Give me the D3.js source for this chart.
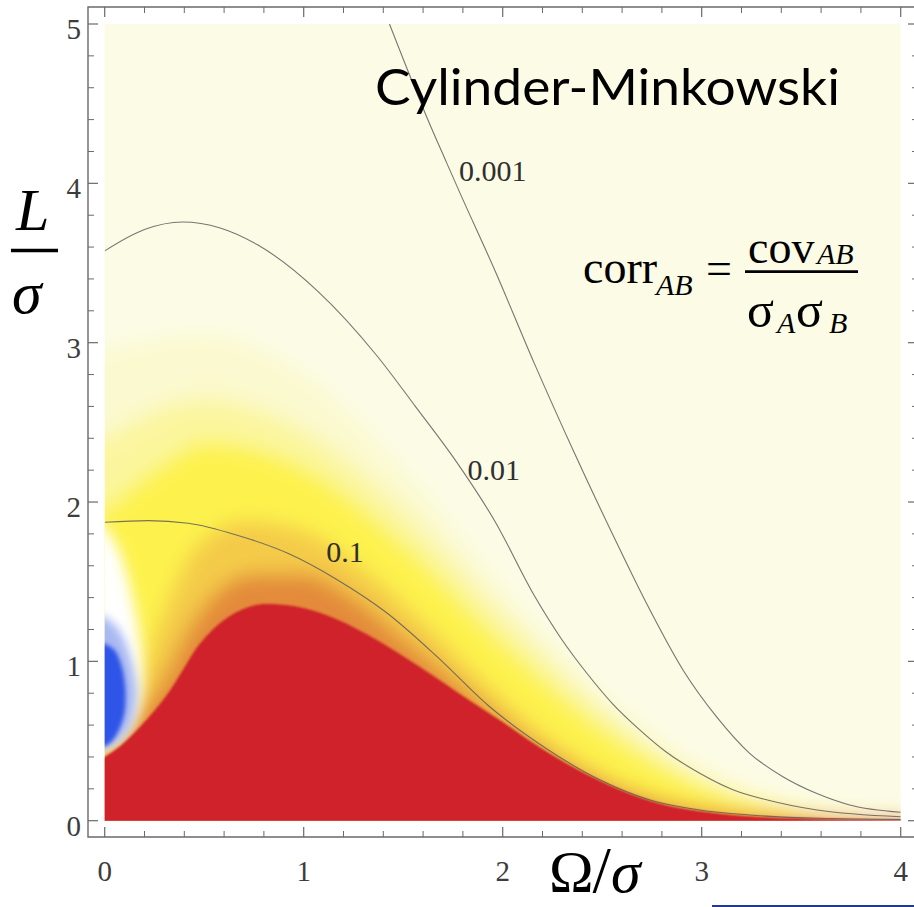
<!DOCTYPE html>
<html>
<head>
<meta charset="utf-8">
<script src="https://cdn.jsdelivr.net/npm/d3@7"></script>
<style>
  html, body { margin: 0; padding: 0; background: #ffffff; }
  svg { display: block; }
</style>
</head>
<body>
<svg id="chart" width="914" height="907"></svg>
<script>
// ---- axis ticks ----
const omegaTicks = [0, 1, 2, 3, 4];
const lTicks = [0, 1, 2, 3, 4, 5];
const minorStep = 0.2;

// ---- contour lines of corr_AB, points as [Ω/σ, L/σ] ----
const contour0p1 = [[0,1.873],[0.22,1.883],[0.42,1.867],[0.67,1.79],[0.92,1.678],[1.17,1.511],[1.42,1.302],[1.67,1.03],[1.93,0.72],[2.23,0.444],[2.49,0.255],[2.74,0.13],[2.99,0.067],[3.24,0.036],[3.58,0.015],[4,0.008]];
const contour0p01 = [[0,3.576],[0.2,3.71],[0.39,3.757],[0.58,3.72],[0.77,3.613],[1.07,3.324],[1.37,2.915],[1.56,2.602],[1.76,2.266],[1.96,1.881],[2.16,1.41],[2.29,1.15],[2.42,0.93],[2.55,0.737],[2.69,0.569],[2.82,0.433],[2.99,0.298],[3.16,0.193],[3.33,0.13],[3.58,0.067],[4,0.025]];
const contour0p001 = [[1.431,5.0],[1.5,4.78],[1.617,4.42],[1.718,4.13],[1.785,3.94],[1.962,3.45],[2.16,2.867],[2.358,2.314],[2.557,1.785],[2.716,1.38],[2.906,0.946],[3.074,0.653],[3.241,0.423],[3.408,0.276],[3.576,0.172],[3.743,0.099],[4,0.053]];
const contourLevels = ["0.1", "0.01", "0.001"];
const contourLabelPos = [[1.207,1.621],[1.955,2.139],[1.95,4.016]];

// ---- colour bands of the density plot (upper edge of each band) ----
const bandPale   = [[0,2.95],[0.5,3.05],[1.0,2.8],[1.5,2.2],[2.0,1.45],[2.5,0.8],[3.0,0.33],[3.5,0.1],[4,0.03]];
const bandLight  = [[0,2.4],[0.5,2.65],[1.0,2.45],[1.5,1.95],[2.0,1.3],[2.5,0.7],[3.0,0.28],[3.5,0.08],[4,0.02]];
const bandYellow = [[0,1.95],[0.3,2.25],[0.5,2.38],[1.0,2.22],[1.5,1.74],[2.0,1.12],[2.5,0.58],[3.0,0.22],[3.5,0.065],[4,0.015]];
const bandGold   = [[0,0.42],[0.12,0.72],[0.22,1.05],[0.32,1.38],[0.45,1.7],[0.7,1.88],[1.0,1.82],[1.3,1.58],[1.6,1.25],[1.9,0.88],[2.2,0.55],[2.5,0.3],[2.8,0.14],[3.1,0.065],[3.5,0.025],[4,0.006]];
const bandOrange = [[0,0.41],[0.15,0.64],[0.3,0.9],[0.42,1.2],[0.55,1.42],[0.75,1.55],[1.0,1.55],[1.25,1.4],[1.5,1.15],[1.8,0.84],[2.1,0.53],[2.4,0.3],[2.7,0.15],[3.0,0.07],[3.4,0.026],[4,0.005]];
const redEdge    = [[0,0.40],[0.08,0.47],[0.167,0.575],[0.25,0.69],[0.335,0.83],[0.40,0.96],[0.46,1.08],[0.52,1.17],[0.6,1.26],[0.7,1.33],[0.803,1.36],[0.92,1.352],[1.088,1.302],[1.339,1.155],[1.59,0.96],[1.83,0.758],[2.0,0.62],[2.15,0.49],[2.32,0.36],[2.49,0.25],[2.65,0.165],[2.82,0.099],[3.0,0.06],[3.16,0.036],[3.5,0.015],[4,0.004]];
const whiteHalo  = [[0,1.85],[0.07,1.7],[0.13,1.45],[0.17,1.2],[0.19,0.95],[0.18,0.75],[0.14,0.6],[0.08,0.5],[0,0.44]];
const blueGlow   = [[0,1.28],[0.07,1.2],[0.13,1.02],[0.16,0.8],[0.13,0.6],[0.07,0.5],[0,0.45]];
const blueCore   = [[0,1.11],[0.05,1.07],[0.085,0.97],[0.104,0.82],[0.098,0.67],[0.068,0.56],[0.03,0.49],[0,0.465]];

const backgroundColour = "#fcfce6";
const bandColours = ["#fbf9cf", "#fbf69e", "#fdf24e", "#f4cb48", "#e38a3b"];
const redColour = "#cf2129";
const blueColours = ["#a8b8f2", "#2e54e8"];

// ---- layout ----
const svg = d3.select("#chart");
const x = d3.scaleLinear().domain([0, 4]).range([104.7, 900.7]);
const y = d3.scaleLinear().domain([0, 5]).range([820.7, 24]);
const frame = { left: 88, right: 918, top: 7, bottom: 837 };
const serif = "'Liberation Serif', 'Times New Roman', serif";

const defs = svg.append("defs");
defs.append("clipPath").attr("id", "plotClip")
  .append("rect")
  .attr("x", x(0)).attr("y", y(5))
  .attr("width", x(4) - x(0)).attr("height", y(0) - y(5));

function blurFilter(id, sd) {
  defs.append("filter").attr("id", id)
    .attr("filterUnits", "userSpaceOnUse")
    .attr("x", -200).attr("y", -200).attr("width", 1400).attr("height", 1400)
    .append("feGaussianBlur").attr("stdDeviation", sd);
}
blurFilter("soft", 10);
blurFilter("haloBlur", 7);
blurFilter("glowBlur", 5);
blurFilter("coreBlur", 2);
blurFilter("edgeBlur", 1.1);

const curve = d3.line().x(d => x(d[0])).y(d => y(d[1])).curve(d3.curveMonotoneX);
const loop = d3.line().x(d => x(d[0])).y(d => y(d[1])).curve(d3.curveCatmullRom.alpha(0.5));

// region below an edge that runs from the left side to the right side
function regionBelow(edge) {
  const last = edge[edge.length - 1];
  return curve(edge) +
    `L${x(4.3)},${y(last[1])}L${x(4.3)},${y(-0.3)}L${x(-0.3)},${y(-0.3)}L${x(-0.3)},${y(edge[0][1])}Z`;
}
// region bounded by an edge that leaves and returns to the Ω = 0 side
function regionAtAxis(edge) {
  const first = edge[0], last = edge[edge.length - 1];
  return loop(edge) + `L${x(-0.2)},${y(last[1])}L${x(-0.2)},${y(first[1])}Z`;
}

// ---- density plot ----
const plot = svg.append("g").attr("clip-path", "url(#plotClip)");

const soft = plot.append("g").attr("filter", "url(#soft)");
soft.append("rect")
  .attr("x", x(-0.4)).attr("y", y(5.4))
  .attr("width", x(4.4) - x(-0.4)).attr("height", y(-0.4) - y(5.4))
  .attr("fill", backgroundColour);
[bandPale, bandLight, bandYellow, bandGold, bandOrange].forEach((edge, i) => {
  soft.append("path").attr("d", regionBelow(edge)).attr("fill", bandColours[i]);
});

plot.append("path").attr("d", regionAtAxis(whiteHalo))
  .attr("fill", "#ffffff").attr("filter", "url(#haloBlur)");
plot.append("path").attr("d", regionAtAxis(blueGlow))
  .attr("fill", blueColours[0]).attr("filter", "url(#glowBlur)");
plot.append("path").attr("d", regionAtAxis(blueCore))
  .attr("fill", blueColours[1]).attr("filter", "url(#coreBlur)");

plot.append("path").attr("d", regionBelow(redEdge))
  .attr("fill", redColour).attr("filter", "url(#edgeBlur)");

// ---- contour lines ----
[contour0p1, contour0p01, contour0p001].forEach(pts => {
  plot.append("path").attr("d", curve(pts))
    .attr("fill", "none").attr("stroke", "#5e5e5e")
    .attr("stroke-opacity", 0.85).attr("stroke-width", 1.1);
});
contourLevels.forEach((t, i) => {
  svg.append("text")
    .attr("x", x(contourLabelPos[i][0])).attr("y", y(contourLabelPos[i][1]))
    .attr("text-anchor", "middle")
    .attr("font-family", serif).attr("font-size", 30)
    .attr("fill", "#2f2f2f").text(t);
});

// ---- frame and ticks ----
const axes = svg.append("g").attr("stroke", "#6a6a6a").attr("fill", "none");
axes.append("path")
  .attr("d", `M${frame.right},${frame.top}H${frame.left}V${frame.bottom}H${frame.right}`)
  .attr("stroke-width", 1.4);
axes.append("line")
  .attr("x1", frame.right).attr("x2", frame.right)
  .attr("y1", frame.top).attr("y2", frame.bottom).attr("stroke-width", 1.4);

const omegaMinor = d3.range(0, 4 + 1e-9, minorStep).filter(v => Math.abs(v - Math.round(v)) > 1e-6);
const lMinor = d3.range(0, 5 + 1e-9, minorStep).filter(v => Math.abs(v - Math.round(v)) > 1e-6);

omegaTicks.forEach(v => {
  axes.append("line").attr("x1", x(v)).attr("x2", x(v)).attr("y1", frame.bottom).attr("y2", frame.bottom - 10).attr("stroke-width", 1.2);
  axes.append("line").attr("x1", x(v)).attr("x2", x(v)).attr("y1", frame.top).attr("y2", frame.top + 10).attr("stroke-width", 1.2);
});
omegaMinor.forEach(v => {
  axes.append("line").attr("x1", x(v)).attr("x2", x(v)).attr("y1", frame.bottom).attr("y2", frame.bottom - 6).attr("stroke-width", 1);
  axes.append("line").attr("x1", x(v)).attr("x2", x(v)).attr("y1", frame.top).attr("y2", frame.top + 6).attr("stroke-width", 1);
});
lTicks.forEach(v => {
  axes.append("line").attr("x1", frame.left).attr("x2", frame.left + 10).attr("y1", y(v)).attr("y2", y(v)).attr("stroke-width", 1.2);
  axes.append("line").attr("x1", frame.right).attr("x2", frame.right - 10).attr("y1", y(v)).attr("y2", y(v)).attr("stroke-width", 1.2);
});
lMinor.forEach(v => {
  axes.append("line").attr("x1", frame.left).attr("x2", frame.left + 6).attr("y1", y(v)).attr("y2", y(v)).attr("stroke-width", 1);
  axes.append("line").attr("x1", frame.right).attr("x2", frame.right - 6).attr("y1", y(v)).attr("y2", y(v)).attr("stroke-width", 1);
});

const tickText = svg.append("g")
  .attr("font-family", serif).attr("font-size", 29).attr("fill", "#3c3c3c");
omegaTicks.forEach(v => {
  tickText.append("text").attr("x", x(v)).attr("y", 881)
    .attr("text-anchor", "middle").text(d3.format("d")(v));
});
lTicks.forEach(v => {
  tickText.append("text").attr("x", 81).attr("y", y(v) + 15)
    .attr("text-anchor", "end").text(d3.format("d")(v));
});

// ---- axis labels ----
svg.append("text").attr("x", 16).attr("y", 230)
  .attr("font-family", serif).attr("font-size", 60).attr("font-style", "italic")
  .attr("fill", "#000").text("L");
svg.append("line").attr("x1", 11).attr("x2", 58).attr("y1", 250.5).attr("y2", 250.5)
  .attr("stroke", "#000").attr("stroke-width", 3.3);
svg.append("text").attr("x", 12).attr("y", 313)
  .attr("font-family", serif).attr("font-size", 60).attr("font-style", "italic")
  .attr("fill", "#000").text("σ");

const omegaLabel = svg.append("text").attr("x", 549).attr("y", 892)
  .attr("font-family", serif).attr("font-size", 60).attr("fill", "#000");
omegaLabel.append("tspan").text("Ω");
omegaLabel.append("tspan").attr("font-size", 66).attr("dx", -1).text("/");
omegaLabel.append("tspan").attr("font-style", "italic").attr("dx", 0).text("σ");

// ---- title ----
const title = svg.append("text").attr("x", 375).attr("y", 105)
  .attr("font-family", "Lato, 'Open Sans', sans-serif").attr("font-size", 51)
  .attr("fill", "#000").text("Cylinder-Minkowski");
title.attr("textLength", 465).attr("lengthAdjust", "spacingAndGlyphs");

// ---- definition of the correlation ----
const formula = svg.append("g").attr("font-family", serif).attr("fill", "#000");
formula.append("text").attr("x", 583).attr("y", 283).attr("font-size", 46).text("corr");
formula.append("text").attr("x", 656).attr("y", 295).attr("font-size", 30).attr("font-style", "italic").text("AB");
formula.append("text").attr("x", 706).attr("y", 284).attr("font-size", 46).text("=");
formula.append("text").attr("x", 748).attr("y", 263).attr("font-size", 46).text("cov");
formula.append("text").attr("x", 817).attr("y", 264).attr("font-size", 30).attr("font-style", "italic").text("AB");
formula.append("line").attr("x1", 745).attr("x2", 858).attr("y1", 271.7).attr("y2", 271.7)
  .attr("stroke", "#000").attr("stroke-width", 2.8);
formula.append("text").attr("x", 747).attr("y", 327).attr("font-size", 50).text("σ");
formula.append("text").attr("x", 777).attr("y", 333).attr("font-size", 30).attr("font-style", "italic").text("A");
formula.append("text").attr("x", 796).attr("y", 327).attr("font-size", 50).text("σ");
formula.append("text").attr("x", 829).attr("y", 333).attr("font-size", 30).attr("font-style", "italic").text("B");

// ---- rule at the lower right ----
svg.append("line").attr("x1", 712).attr("x2", 914).attr("y1", 906).attr("y2", 906)
  .attr("stroke", "#22398e").attr("stroke-width", 2);
</script>
</body>
</html>
